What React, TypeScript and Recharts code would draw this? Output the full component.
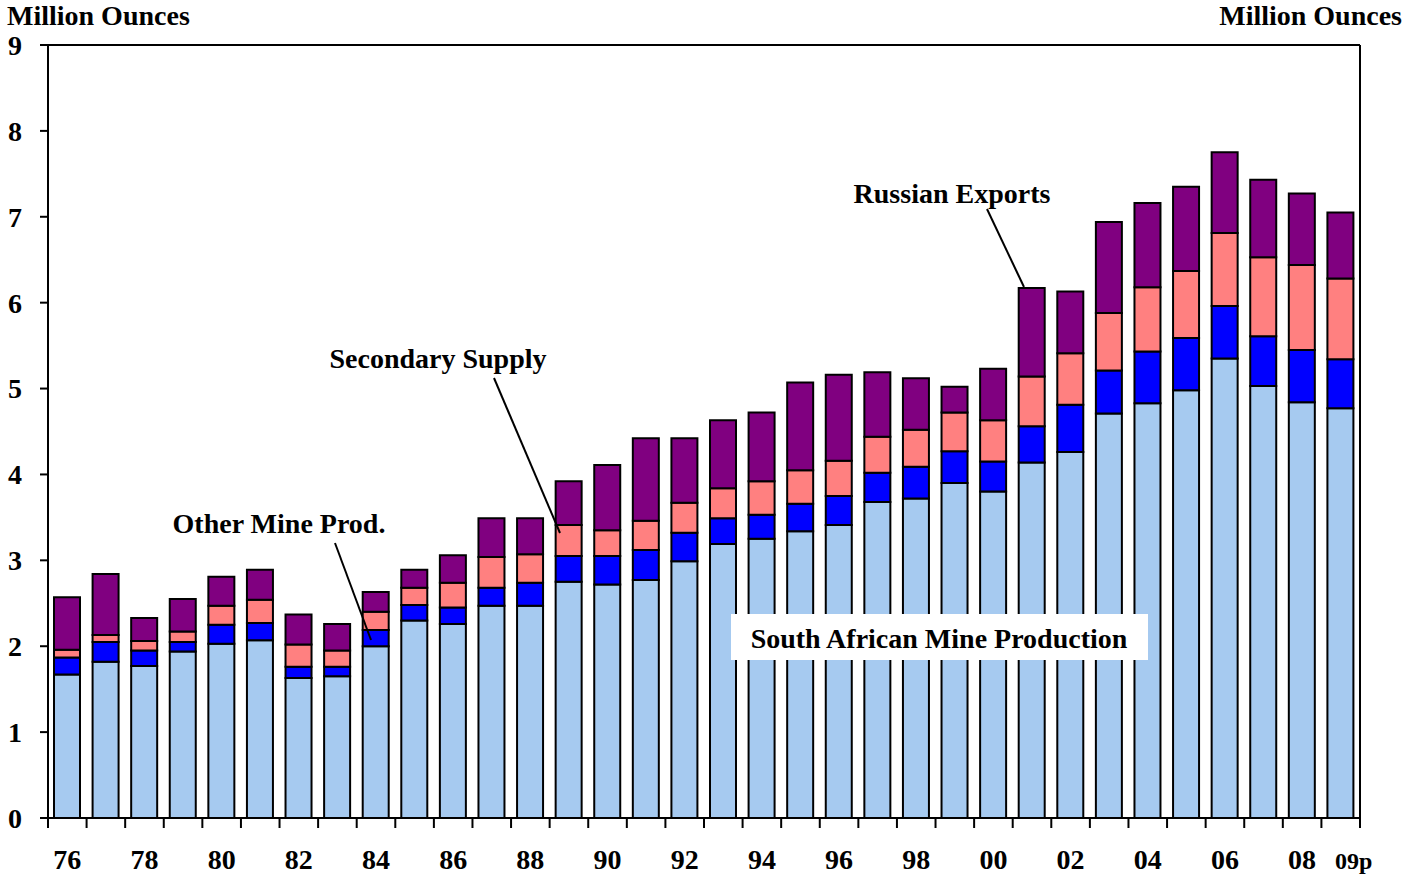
import { Bar, BarChart, CartesianGrid, XAxis, YAxis } from "recharts"

// Years on the x axis (every other one is labelled)
const years = [
  "76", "77", "78", "79", "80", "81", "82", "83", "84", "85", "86", "87",
  "88", "89", "90", "91", "92", "93", "94", "95", "96", "97", "98", "99",
  "00", "01", "02", "03", "04", "05", "06", "07", "08", "09p",
]
const shownLabels = [
  "76", "78", "80", "82", "84", "86", "88", "90", "92", "94", "96", "98",
  "00", "02", "04", "06", "08", "09p",
]

// Million ounces
const southAfrica = [
  1.67, 1.82, 1.77, 1.94, 2.03, 2.07, 1.63, 1.65, 2.0, 2.3, 2.26, 2.47,
  2.47, 2.75, 2.72, 2.77, 2.99, 3.19, 3.25, 3.34, 3.41, 3.68, 3.72, 3.9,
  3.8, 4.14, 4.26, 4.71, 4.83, 4.98, 5.35, 5.03, 4.84, 4.77,
]
const otherMine = [
  0.2, 0.23, 0.18, 0.11, 0.22, 0.2, 0.13, 0.11, 0.19, 0.18, 0.19, 0.21,
  0.27, 0.3, 0.33, 0.35, 0.33, 0.3, 0.28, 0.32, 0.34, 0.34, 0.37, 0.37,
  0.35, 0.42, 0.55, 0.5, 0.6, 0.61, 0.61, 0.58, 0.61, 0.57,
]
const secondary = [
  0.09, 0.08, 0.11, 0.12, 0.22, 0.27, 0.26, 0.19, 0.21, 0.2, 0.29, 0.36,
  0.33, 0.36, 0.3, 0.34, 0.35, 0.35, 0.39, 0.39, 0.41, 0.42, 0.43, 0.45,
  0.48, 0.58, 0.6, 0.67, 0.75, 0.78, 0.85, 0.92, 0.99, 0.94,
]
const russian = [
  0.61, 0.71, 0.27, 0.38, 0.34, 0.35, 0.35, 0.31, 0.23, 0.21, 0.32, 0.45,
  0.42, 0.51, 0.76, 0.96, 0.75, 0.79, 0.8, 1.02, 1.0, 0.75, 0.6, 0.3,
  0.6, 1.03, 0.72, 1.06, 0.98, 0.98, 0.94, 0.9, 0.83, 0.77,
]
const yTicks = [0, 1, 2, 3, 4, 5, 6, 7, 8, 9]

const data = years.map((year, i) => ({
  year,
  sa: southAfrica[i],
  other: otherMine[i],
  secondary: secondary[i],
  russian: russian[i],
}))

const W = 1403
const H = 874
const LEFT = 48
const RIGHT = 1360
const TOP = 45
const BOTTOM = 818
const band = (RIGHT - LEFT) / years.length

const font = "'Liberation Serif', 'Times New Roman', serif"
const tickStyle = { fontSize: 28, fontWeight: "bold", fill: "#000", fontFamily: font }

function YearTick(props: any) {
  const { x, payload, index } = props
  const left = x - band / 2
  const label = payload.value as string
  return (
    <g>
      <line x1={left} y1={BOTTOM} x2={left} y2={BOTTOM + 10} stroke="#000" strokeWidth={2} />
      {index === years.length - 1 && (
        <line x1={x + band / 2} y1={BOTTOM} x2={x + band / 2} y2={BOTTOM + 10} stroke="#000" strokeWidth={2} />
      )}
      {shownLabels.includes(label) && (
        <text
          x={label === "09p" ? x + 13 : x}
          y={869}
          textAnchor="middle"
          fontSize={label === "09p" ? 24 : 28}
          fontWeight="bold"
          fontFamily={font}
          fill="#000"
        >
          {label}
        </text>
      )}
    </g>
  )
}

const labelText = { fontSize: 28, fontWeight: "bold" as const, fontFamily: font, fill: "#000" }

export default function App() {
  return (
    <div style={{ position: "absolute", left: 0, top: 0, width: W, height: H, background: "#fff" }}>
      <BarChart
        width={W}
        height={H}
        data={data}
        margin={{ top: TOP, right: 0, bottom: 0, left: 0 }}
        barSize={26}
      >
        <CartesianGrid horizontal vertical={false} stroke="#000" strokeWidth={2} strokeOpacity={1} />
        <XAxis
          dataKey="year"
          interval={0}
          height={H - BOTTOM}
          tickLine={false}
          axisLine={{ stroke: "#000", strokeWidth: 2 }}
          tick={<YearTick />}
        />
        <YAxis
          yAxisId="left"
          orientation="left"
          width={LEFT}
          domain={[0, 9]}
          ticks={yTicks}
          interval={0}
          tickSize={8}
          tickMargin={18}
          tickLine={{ stroke: "#000", strokeWidth: 2 }}
          axisLine={{ stroke: "#000", strokeWidth: 2 }}
          tick={tickStyle}
        />
        <YAxis
          yAxisId="right"
          orientation="right"
          width={W - RIGHT}
          domain={[0, 9]}
          ticks={yTicks}
          interval={0}
          tickSize={8}
          tickMargin={17}
          tickLine={{ stroke: "#000", strokeWidth: 2 }}
          axisLine={{ stroke: "#000", strokeWidth: 2 }}
          tick={tickStyle}
        />
        <Bar yAxisId="left" dataKey="sa" stackId="s" fill="#A6CAF0" stroke="#000" strokeWidth={2} isAnimationActive={false} />
        <Bar yAxisId="left" dataKey="other" stackId="s" fill="#0000FF" stroke="#000" strokeWidth={2} isAnimationActive={false} />
        <Bar yAxisId="left" dataKey="secondary" stackId="s" fill="#FF8080" stroke="#000" strokeWidth={2} isAnimationActive={false} />
        <Bar yAxisId="left" dataKey="russian" stackId="s" fill="#800080" stroke="#000" strokeWidth={2} isAnimationActive={false} />
      </BarChart>

      <svg
        width={W}
        height={H}
        style={{ position: "absolute", left: 0, top: 0, pointerEvents: "none" }}
      >
        <text x={7} y={25} {...labelText}>Million Ounces</text>
        <text x={1402} y={25} textAnchor="end" {...labelText}>Million Ounces</text>

        <text x={952} y={203} textAnchor="middle" {...labelText}>Russian Exports</text>
        <line x1={987} y1={209} x2={1024} y2={287} stroke="#000" strokeWidth={2} />

        <text x={438} y={368} textAnchor="middle" {...labelText}>Secondary Supply</text>
        <line x1={494} y1={378} x2={560} y2={533} stroke="#000" strokeWidth={2} />

        <text x={279} y={533} textAnchor="middle" {...labelText}>Other Mine Prod.</text>
        <line x1={335} y1={543} x2={371} y2={640} stroke="#000" strokeWidth={2} />

        <rect x={731} y={614} width={417} height={46} fill="#fff" />
        <text x={939} y={648} textAnchor="middle" {...labelText}>South African Mine Production</text>
      </svg>
    </div>
  )
}
